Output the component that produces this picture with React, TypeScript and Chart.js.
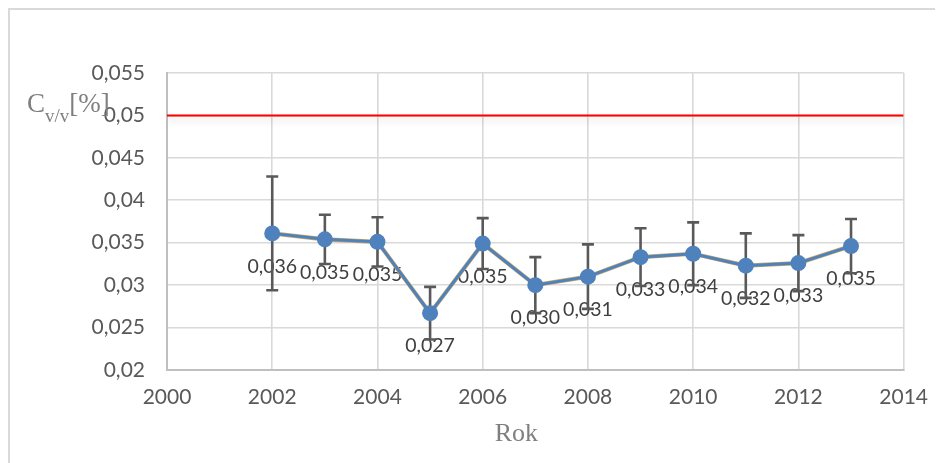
import React, { useEffect, useRef } from "react";
import { Chart, registerables } from "chart.js";

Chart.register(...registerables);

// Measured volumetric concentration per year
const years = [2002, 2003, 2004, 2005, 2006, 2007, 2008, 2009, 2010, 2011, 2012, 2013];
const cvValues = [0.0361, 0.0354, 0.0351, 0.0267, 0.0349, 0.03, 0.031, 0.0333, 0.0337, 0.0323, 0.0326, 0.0346];
// Symmetric error (± value) for each year
const cvErrors = [0.0067, 0.0029, 0.0029, 0.0031, 0.003, 0.0033, 0.0038, 0.0034, 0.0037, 0.0038, 0.0033, 0.0032];

// Limit line
const limitYears = [2000, 2014];
const limitValues = [0.05, 0.05];

// Axis ranges
const xMin = 2000;
const xMax = 2014;
const xStep = 2;
const yMin = 0.02;
const yMax = 0.055;
const yStep = 0.005;

const comma = (v: number, digits: number) => v.toFixed(digits).replace(".", ",");
const yTickText = (v: number) => String(parseFloat(v.toFixed(3))).replace(".", ",");

const TICK_FONT = { family: "Lato", size: 21 };
const LABEL_FONT = "19.5px Lato";
const SERIF = "'Liberation Serif', 'DejaVu Serif', serif";

const LIMIT_INDEX = 2;

const frameAndTitles = {
  id: "frameAndTitles",
  beforeDraw(chart: Chart) {
    const ctx = chart.ctx;
    ctx.save();
    ctx.fillStyle = "#ffffff";
    ctx.fillRect(0, 0, chart.width, chart.height);
    // top and left frame lines
    ctx.fillStyle = "#d9d9d9";
    ctx.fillRect(0, 0, chart.width, 2);
    ctx.fillRect(0, 0, 2, chart.height);
    ctx.restore();
  },
  afterDraw(chart: Chart) {
    const ctx = chart.ctx;
    const area = chart.chartArea;
    ctx.save();
    ctx.fillStyle = "#7f7f7f";
    // y title: C with subscript v/v, then [%]
    ctx.textBaseline = "alphabetic";
    ctx.textAlign = "left";
    let x = 19;
    const base = 104;
    ctx.font = `27px ${SERIF}`;
    ctx.fillText("C", x, base);
    x += ctx.measureText("C").width;
    ctx.font = `19px ${SERIF}`;
    ctx.fillText("v/v", x, base + 10);
    x += ctx.measureText("v/v").width;
    ctx.font = `27px ${SERIF}`;
    ctx.fillText("[%]", x, base);
    // x title
    ctx.textAlign = "center";
    ctx.font = `26px ${SERIF}`;
    ctx.fillText("Rok", (area.left + area.right) / 2 - 19, 433);
    ctx.restore();
  },
};

const errorBarsAndLabels = {
  id: "errorBarsAndLabels",
  beforeDatasetsDraw(chart: Chart) {
    const ctx = chart.ctx;
    const xs = chart.scales.x;
    const ys = chart.scales.y;
    ctx.save();
    // value labels under the points
    ctx.fillStyle = "#404040";
    ctx.font = LABEL_FONT;
    ctx.textAlign = "center";
    ctx.textBaseline = "middle";
    years.forEach((yr, i) => {
      const px = xs.getPixelForValue(yr);
      const py = ys.getPixelForValue(cvValues[i]);
      ctx.fillText(comma(cvValues[i], 3), px, py + 33);
    });
    // error bars
    ctx.strokeStyle = "#595959";
    ctx.lineWidth = 2.6;
    years.forEach((yr, i) => {
      const px = xs.getPixelForValue(yr);
      const top = ys.getPixelForValue(cvValues[i] + cvErrors[i]);
      const bot = ys.getPixelForValue(cvValues[i] - cvErrors[i]);
      ctx.beginPath();
      ctx.moveTo(px, top);
      ctx.lineTo(px, bot);
      ctx.moveTo(px - 6, top);
      ctx.lineTo(px + 6, top);
      ctx.moveTo(px - 6, bot);
      ctx.lineTo(px + 6, bot);
      ctx.stroke();
    });
    ctx.restore();
  },
  beforeDatasetDraw(chart: Chart, args: { index: number }) {
    if (args.index === LIMIT_INDEX) {
      const ctx = chart.ctx;
      ctx.save();
      ctx.shadowColor = "rgba(0,0,0,0.16)";
      ctx.shadowBlur = 7;
      ctx.shadowOffsetY = 4;
    }
  },
  afterDatasetDraw(chart: Chart, args: { index: number }) {
    if (args.index === LIMIT_INDEX) {
      chart.ctx.restore();
    }
  },
};

export default function App() {
  const canvasRef = useRef<HTMLCanvasElement | null>(null);

  useEffect(() => {
    const canvas = canvasRef.current;
    if (!canvas) return;
    const points = years.map((x, i) => ({ x, y: cvValues[i] }));
    const chart = new Chart(canvas, {
      type: "line",
      data: {
        datasets: [
          {
            data: points,
            borderColor: "#4f81bd",
            backgroundColor: "#4f81bd",
            borderWidth: 3,
            pointRadius: 8,
            pointBorderWidth: 0,
            pointBackgroundColor: "#4f81bd",
            tension: 0,
            order: 1,
          },
          {
            data: points,
            borderColor: "#c8a868",
            borderWidth: 4.2,
            pointRadius: 0,
            tension: 0,
            order: 2,
          },
          {
            data: limitYears.map((x, i) => ({ x, y: limitValues[i] })),
            borderColor: "#ff0000",
            borderWidth: 2,
            pointRadius: 0,
            tension: 0,
            order: 3,
          },
        ],
      },
      options: {
        responsive: false,
        animation: false,
        events: [],
        layout: { padding: { top: 65, right: 32, left: 0, bottom: 0 } },
        plugins: {
          legend: { display: false },
          tooltip: { enabled: false },
        },
        scales: {
          x: {
            type: "linear",
            min: xMin,
            max: xMax,
            afterFit: (scale: any) => {
              scale.height = 93;
            },
            ticks: {
              stepSize: xStep,
              color: "#595959",
              font: TICK_FONT,
              padding: 15,
              callback: (v: any) => String(v),
            },
            grid: { color: "#d9d9d9", lineWidth: 1.6, drawTicks: false },
            border: { color: "#bfbfbf", width: 2 },
          },
          y: {
            type: "linear",
            min: yMin,
            max: yMax,
            afterFit: (scale: any) => {
              scale.width = 159;
            },
            ticks: {
              stepSize: yStep,
              color: "#595959",
              font: TICK_FONT,
              padding: 22,
              callback: (v: any) => yTickText(Number(v)),
            },
            grid: { color: "#d9d9d9", lineWidth: 1.6, drawTicks: false },
            border: { color: "#bfbfbf", width: 2 },
          },
        },
      },
      plugins: [frameAndTitles, errorBarsAndLabels],
    });
    return () => chart.destroy();
  }, []);

  return (
    <div style={{ width: 935, height: 455 }}>
      <canvas ref={canvasRef} width={935} height={455} style={{ display: "block" }} />
    </div>
  );
}
